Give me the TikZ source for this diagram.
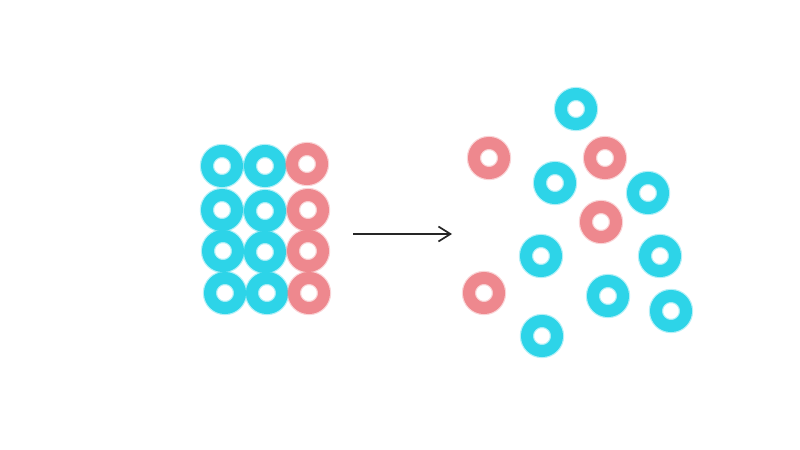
\documentclass[tikz,border=0pt]{standalone}
\usepackage{tikz}
\usetikzlibrary{arrows.meta}

\definecolor{ringcyan}{RGB}{45,212,232}
\definecolor{ringred}{RGB}{238,136,142}

\begin{document}
\begin{tikzpicture}[
  x=0.05cm, y=-0.05cm,
  ring/.style={circle, inner sep=0pt, outer sep=0pt, minimum size=1.5cm, line width=0.6cm},
  cy/.style={ring, draw=ringcyan, preaction={draw=ringcyan, line width=0.72cm, opacity=0.35}},
  rd/.style={ring, draw=ringred, preaction={draw=ringred, line width=0.72cm, opacity=0.35}},
  arr/.style={-{Straight Barb[length=0.6cm, width=0.75cm, line width=2.4pt]}, line width=2.4pt, draw=black!85}
]
\useasboundingbox (0,0) rectangle (800,450);

% before
\node[cy] (a11) at (222,166) {};
\node[cy] (a12) at (265,166) {};
\node[rd] (a13) at (307,164) {};
\node[cy] (a21) at (222,210) {};
\node[cy] (a22) at (265,211) {};
\node[rd] (a23) at (308,210) {};
\node[cy] (a31) at (223,251) {};
\node[cy] (a32) at (265,252) {};
\node[rd] (a33) at (308,251) {};
\node[cy] (a41) at (225,293) {};
\node[cy] (a42) at (267,293) {};
\node[rd] (a43) at (309,293) {};

% arrow
\coordinate (from) at (353,234);
\coordinate (to) at (452,234);
\draw[arr] (from) -- (to);

% after
\node[cy] (b1) at (576,109) {};
\node[rd] (b2) at (489,158) {};
\node[rd] (b3) at (605,158) {};
\node[cy] (b4) at (555,183) {};
\node[cy] (b5) at (648,193) {};
\node[rd] (b6) at (601,222) {};
\node[cy] (b7) at (541,256) {};
\node[cy] (b8) at (660,256) {};
\node[rd] (b9) at (484,293) {};
\node[cy] (b10) at (608,296) {};
\node[cy] (b11) at (671,311) {};
\node[cy] (b12) at (542,336) {};
\end{tikzpicture}
\end{document}
